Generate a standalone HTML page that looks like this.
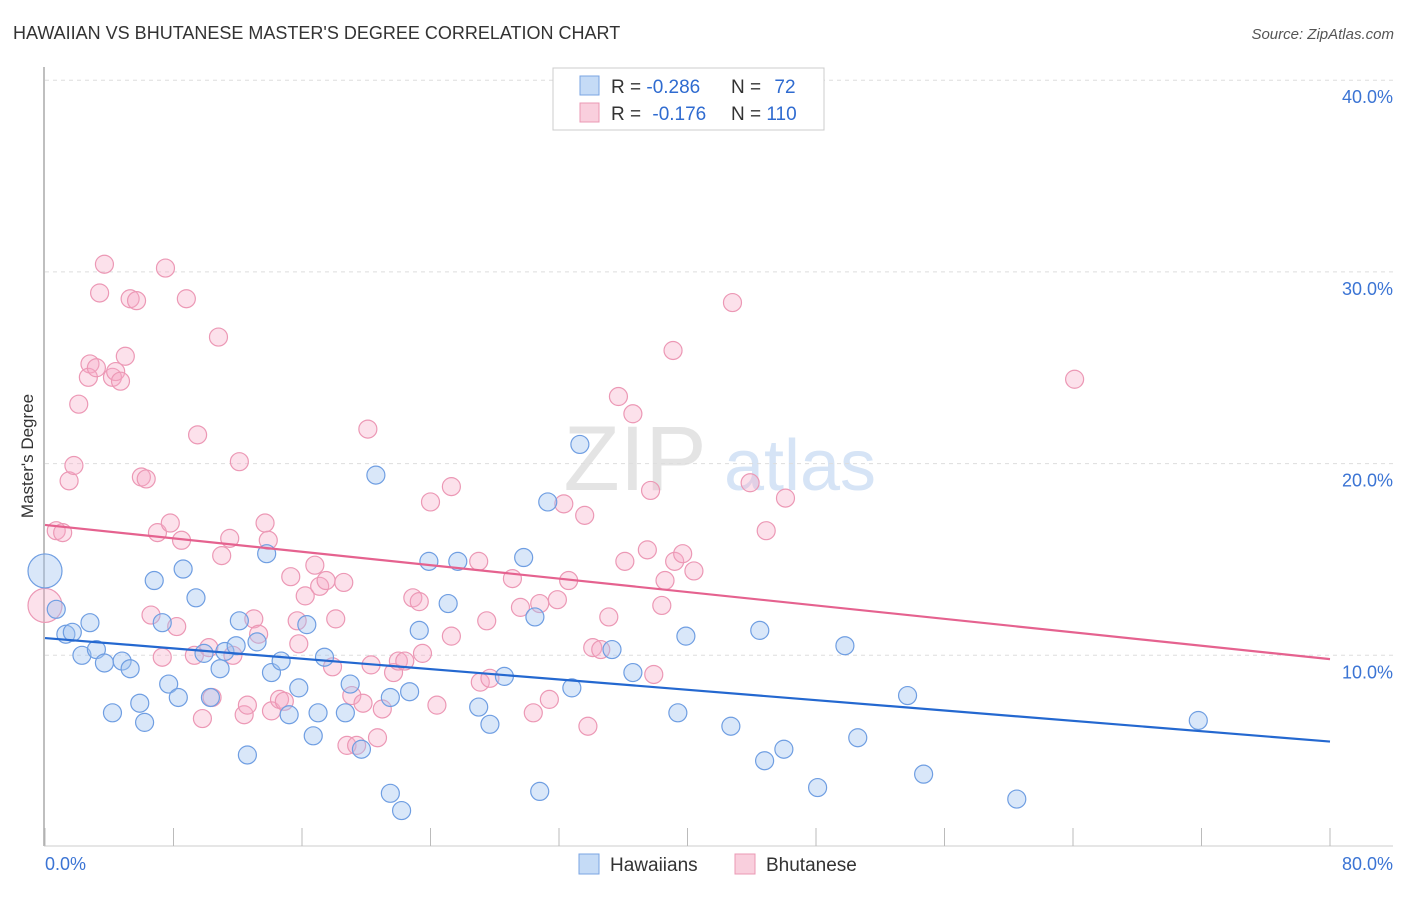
<!DOCTYPE html>
<html><head><meta charset="utf-8"><style>
body{margin:0;background:#fff;font-family:"Liberation Sans",sans-serif}
svg text{font-family:"Liberation Sans",sans-serif}
</style></head><body>
<svg id="chart" width="1406" height="892" viewBox="0 0 1406 892">
<text x="13" y="39" font-size="18" fill="#333">HAWAIIAN VS BHUTANESE MASTER'S DEGREE CORRELATION CHART</text>
<text x="1394" y="39" font-size="15" fill="#555" text-anchor="end" font-style="italic">Source: ZipAtlas.com</text>
<text transform="translate(33,456) rotate(-90)" font-size="17" fill="#333" text-anchor="middle">Master's Degree</text>
<g>
<text x="635" y="490" font-size="92" fill="#e4e4e4" text-anchor="middle" font-family="Liberation Serif, serif">ZIP</text>
<text x="800" y="490" font-size="72" fill="#d6e4f6" text-anchor="middle">atlas</text>
</g>
<g id="grid"></g>
<g id="axes"></g>
<g id="points"></g>
<g id="lines"></g>
<g>
<rect x="553" y="68" width="271" height="62" fill="#fff" stroke="#ccc"/>
<rect x="580" y="76" width="19" height="19" fill="#c5dbf6" stroke="#7aa5e3"/>
<rect x="580" y="103" width="19" height="19" fill="#f9cfdd" stroke="#eb98b4"/>
<text x="611" y="93" font-size="19" fill="#333">R = <tspan fill="#2f6bd0">-0.286</tspan></text>
<text x="731" y="93" font-size="19" fill="#333">N = <tspan fill="#2f6bd0" dx="8">72</tspan></text>
<text x="611" y="120" font-size="19" fill="#333">R = <tspan fill="#2f6bd0" dx="6">-0.176</tspan></text>
<text x="731" y="120" font-size="19" fill="#333">N = <tspan fill="#2f6bd0">110</tspan></text>
</g>
<g>
<rect x="579" y="854" width="20" height="20" fill="#c5dbf6" stroke="#7aa5e3"/>
<text x="610" y="871" font-size="19" fill="#333">Hawaiians</text>
<rect x="735" y="854" width="20" height="20" fill="#f9cfdd" stroke="#eb98b4"/>
<text x="766" y="871" font-size="19" fill="#333">Bhutanese</text>
</g>
</svg>
<script>
const yTicks=[10,20,30,40];
const yTickLabels=["10.0%","20.0%","30.0%","40.0%"];
const xTickVals=[0,8,16,24,32,40,48,56,64,72,80];
const xEndLabels=["0.0%","80.0%"];
const hawX=[0,0.7,1.3,1.7,2.8,2.3,3.2,3.7,4.8,5.3,4.2,5.9,6.2,6.8,7.3,7.7,8.3,8.6,9.4,9.9,10.3,10.9,11.2,11.9,12.1,13.2,12.6,13.8,14.1,14.7,15.2,15.8,16.3,16.7,17.4,17.0,19.0,18.7,19.7,20.6,21.5,21.5,22.2,22.7,23.3,23.9,25.1,25.7,27.0,27.7,28.6,29.8,30.5,30.8,31.3,32.8,33.3,35.3,36.6,39.9,39.4,42.7,44.5,44.8,46.0,48.1,49.8,50.6,53.7,54.7,60.5,71.8];
const hawY=[14.4,12.4,11.1,11.2,11.7,10.0,10.3,9.6,9.7,9.3,7.0,7.5,6.5,13.9,11.7,8.5,7.8,14.5,13.0,10.1,7.8,9.3,10.2,10.5,11.8,10.7,4.8,15.3,9.1,9.7,6.9,8.3,11.6,5.8,9.9,7.0,8.5,7.0,5.1,19.4,7.8,2.8,1.9,8.1,11.3,14.9,12.7,14.9,7.3,6.4,8.9,15.1,12.0,2.9,18.0,8.3,21.0,10.3,9.1,11.0,7.0,6.3,11.3,4.5,5.1,3.1,10.5,5.7,7.9,3.8,2.5,6.6];
const bhuX=[0,0.7,1.1,1.5,1.8,2.1,2.8,2.7,3.2,3.4,3.7,4.2,4.4,4.7,5.0,5.3,5.7,6.0,6.3,6.6,7.0,7.3,7.5,7.8,8.2,8.5,8.8,9.3,9.5,9.8,10.2,10.4,10.8,11.0,11.5,11.7,12.1,12.4,12.6,13.0,13.3,13.7,13.9,14.1,14.6,14.9,15.3,15.7,15.8,16.2,16.8,17.1,17.5,17.9,18.1,18.6,18.8,19.1,19.4,19.8,20.1,20.3,20.7,21.0,21.7,22.0,22.4,22.9,23.3,23.5,24.0,24.4,25.3,25.3,27.0,27.1,27.5,27.7,29.1,29.6,30.4,30.8,31.4,31.9,32.3,32.6,33.6,33.8,34.1,34.6,35.1,35.7,36.1,36.6,37.5,37.7,37.9,38.4,38.6,39.1,39.2,39.7,40.4,42.8,43.9,44.9,46.1,64.1];
const bhuY=[12.6,16.5,16.4,19.1,19.9,23.1,25.2,24.5,25.0,28.9,30.4,24.5,24.8,24.3,25.6,28.6,28.5,19.3,19.2,12.1,16.4,9.9,30.2,16.9,11.5,16.0,28.6,10.0,21.5,6.7,10.4,7.8,26.6,15.2,16.1,10.0,20.1,6.9,7.4,11.9,11.1,16.9,16.0,7.1,7.7,7.6,14.1,11.8,10.6,13.1,14.7,13.6,13.9,9.4,11.9,13.8,5.3,7.9,5.3,7.5,21.8,9.5,5.7,7.2,9.1,9.7,9.7,13.0,12.8,10.1,18.0,7.4,18.8,11.0,14.9,8.6,11.8,8.8,14.0,12.5,7.0,12.7,7.7,12.9,17.9,13.9,17.3,6.3,10.4,10.3,12.0,23.5,14.9,22.6,15.5,18.6,9.0,12.6,13.9,25.9,14.9,15.3,14.4,28.4,19.0,16.5,18.2,24.4];
const hawTrend=[10.9,5.5];
const bhuTrend=[16.8,9.8];

const NS="http://www.w3.org/2000/svg";
const X0=45,X1=1330,Y0=847,PPY=19.17;
const xs=v=>X0+(v/80)*(X1-X0);
const ys=v=>Y0-v*PPY;
function mk(tag,attrs,parent){const e=document.createElementNS(NS,tag);for(const k in attrs)e.setAttribute(k,attrs[k]);parent.appendChild(e);return e;}
const grid=document.getElementById('grid'),axes=document.getElementById('axes'),pts=document.getElementById('points'),lines=document.getElementById('lines');
yTicks.forEach((t,i)=>{
  const g=mk('line',{x1:45,x2:1393,y1:ys(t),y2:ys(t),stroke:'#ddd','stroke-dasharray':'4,4'},grid);
  
  
  const l=mk('text',{x:1393,y:ys(t)+23,'font-size':18,fill:'#3b74d4','text-anchor':'end'},axes);
  l.textContent=yTickLabels[i];
  
  
});
const ya=mk('line',{x1:44,x2:44,y1:67,y2:846,stroke:'#aaa','stroke-width':1.5},axes);


const xa=mk('line',{x1:44,x2:1393,y1:846,y2:846,stroke:'#ccc'},axes);


xTickVals.forEach(t=>{
  const tk=mk('line',{x1:xs(t),x2:xs(t),y1:828,y2:846,stroke:'#bbb'},axes);
  
  
});
const xl0=mk('text',{x:45,y:870,'font-size':18,fill:'#3b74d4'},axes);xl0.textContent=xEndLabels[0];


const xl1=mk('text',{x:1393,y:870,'font-size':18,fill:'#3b74d4','text-anchor':'end'},axes);xl1.textContent=xEndLabels[1];


function series(X,Y,fill,stroke,name){
  X.forEach((x,i)=>{
    const r=(i===0)?17:9;
    const c=mk('circle',{cx:xs(x),cy:ys(Y[i]),r:r,fill:fill,stroke:stroke,'stroke-width':1.2},pts);
    
    
  });
}
series(bhuX,bhuY,'rgba(245,170,198,0.35)','#ec98b5','bhutanese');
series(hawX,hawY,'rgba(160,196,240,0.4)','#6f9ee2','hawaiians');
const lh=mk('line',{x1:xs(0),y1:ys(hawTrend[0]),x2:xs(80),y2:ys(hawTrend[1]),stroke:'#2468d0','stroke-width':2.2},lines);


const lb=mk('line',{x1:xs(0),y1:ys(bhuTrend[0]),x2:xs(80),y2:ys(bhuTrend[1]),stroke:'#e5628f','stroke-width':2.2},lines);


</script>
</body></html>
